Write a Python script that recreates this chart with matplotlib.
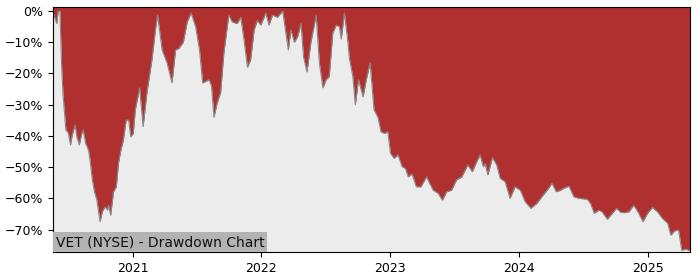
import matplotlib
matplotlib.use("Agg")
import matplotlib.pyplot as plt
import matplotlib.dates as mdates
from matplotlib.ticker import FuncFormatter, MultipleLocator
import pandas as pd

dates = [
    "2020-05-21", "2020-05-31", "2020-06-04", "2020-06-09", "2020-06-14", "2020-06-18",
    "2020-06-26", "2020-07-03", "2020-07-09", "2020-07-14", "2020-07-22",
    "2020-07-27", "2020-08-03", "2020-08-10", "2020-08-14", "2020-08-21", "2020-08-29",
    "2020-09-02", "2020-09-09", "2020-09-15", "2020-09-22", "2020-09-26", "2020-10-01",
    "2020-10-07", "2020-10-15", "2020-10-22", "2020-10-25", "2020-10-31", "2020-11-08",
    "2020-11-16", "2020-11-22", "2020-11-29", "2020-12-06", "2020-12-14", "2020-12-21",
    "2020-12-27", "2021-01-03", "2021-01-09", "2021-01-21", "2021-01-31",
    "2021-02-11", "2021-02-25", "2021-03-07", "2021-03-13", "2021-03-26", "2021-04-09",
    "2021-04-23", "2021-05-03", "2021-05-12", "2021-05-25", "2021-06-05", "2021-06-16",
    "2021-06-29", "2021-07-10", "2021-07-19", "2021-08-06", "2021-08-13", "2021-08-20",
    "2021-08-29", "2021-09-08", "2021-09-17", "2021-10-01", "2021-10-11", "2021-10-25",
    "2021-11-04", "2021-11-13", "2021-11-23", "2021-12-02", "2021-12-12", "2021-12-21",
    "2021-12-31", "2022-01-14", "2022-01-23", "2022-02-02", "2022-02-16", "2022-03-03",
    "2022-03-12", "2022-03-19", "2022-03-26", "2022-04-05", "2022-04-14", "2022-04-24",
    "2022-05-01", "2022-05-11", "2022-05-22", "2022-06-06", "2022-06-15", "2022-06-25",
    "2022-07-04", "2022-07-13", "2022-07-23", "2022-08-02", "2022-08-11", "2022-08-16",
    "2022-08-25", "2022-09-04", "2022-09-08", "2022-09-18", "2022-09-25", "2022-10-04",
    "2022-10-17", "2022-10-26", "2022-11-06", "2022-11-17", "2022-11-28",
    "2022-12-07", "2022-12-17", "2022-12-26", "2023-01-03", "2023-01-13", "2023-01-24",
    "2023-02-05", "2023-02-14", "2023-02-22", "2023-03-05", "2023-03-17", "2023-03-30",
    "2023-04-15", "2023-04-24", "2023-05-04", "2023-05-18", "2023-05-30", "2023-06-11",
    "2023-06-25", "2023-07-09", "2023-07-24", "2023-08-10", "2023-08-23", "2023-09-02",
    "2023-09-14", "2023-09-23", "2023-09-28", "2023-10-06", "2023-10-19", "2023-10-31",
    "2023-11-10", "2023-11-24", "2023-12-08", "2023-12-22", "2024-01-06", "2024-01-20",
    "2024-02-05", "2024-02-22", "2024-03-07", "2024-03-22", "2024-04-05", "2024-04-17",
    "2024-04-29", "2024-05-08", "2024-05-23", "2024-06-06", "2024-06-20", "2024-07-14",
    "2024-07-23", "2024-08-03", "2024-08-16", "2024-08-25", "2024-09-09", "2024-09-23",
    "2024-10-05", "2024-10-17", "2024-10-28", "2024-11-09", "2024-11-23", "2024-12-07",
    "2024-12-19", "2025-01-01", "2025-01-15", "2025-01-29", "2025-02-12", "2025-02-27",
    "2025-03-08", "2025-03-19", "2025-03-30", "2025-04-08", "2025-04-20", "2025-05-02",
]
drawdown_pct = [
    -0.6, -4, 0, 0, -18, -27,
    -38.1, -39.1, -42.9, -39.7, -36.5,
    -40.3, -42.9, -39.2, -38.1, -42.4, -44.5,
    -47.2, -54.1, -57.9, -60.6, -63.8, -67.5,
    -64.3, -62.7, -63.8, -62.2, -65.4, -57.9,
    -56.3, -48.8, -44.5, -41.3, -34.9, -34.9,
    -40.3, -39.2, -31.6, -24.6, -37,
    -26, -15.6, -6, -1.3, -12.5, -16.6,
    -23, -12.5, -12, -10, -3.5, -0.6,
    -5, -12.5, -23, -22, -24, -34,
    -29.5, -26, -13.5, -1.3, -3.5, -4,
    -2, -9, -18, -15.6, -6, -3,
    -4.5, -0.6, -4.5, -1.3, -2, 0,
    -7, -12.5, -6, -10, -8.3, -4,
    -14.7, -19.5, -10, -1.3, -16.6, -24.6,
    -22, -21, -7, -4.5, -5, -9,
    -0.6, -10, -15, -21, -30, -22,
    -27.5, -22, -16.6, -31.6, -34,
    -38.7, -39.2, -38.7, -45.6, -47.2, -46.1,
    -49.9, -50.4, -53.1, -52.2, -56.3, -56.3,
    -53.1, -55.2, -57.4, -58.4, -60.6, -57.9,
    -57.4, -54.1, -53.1, -49.3, -51.5, -48.8,
    -46.1, -49.9, -48.8, -52.5, -46.9, -49.3,
    -53.6, -54.7, -60.0, -56.3, -57.4, -61.1,
    -63.2, -61.6, -59.5, -57.4, -55.2, -57.9,
    -57.4, -56.8, -56.1, -59.5, -60.0, -60.3,
    -61.6, -64.8, -63.8, -64.3, -66.7, -64.8,
    -63.2, -64.5, -64.6, -64.3, -62.2, -64.8,
    -67.5, -64.8, -62.9, -64.3, -66.4, -68.0,
    -71.8, -70.4, -70.2, -76.6, -76.3, -76.8,
]
title_text = "VET (NYSE) - Drawdown Chart"

x = pd.to_datetime(dates)
y_top = 1.3
y_bottom = -77.2

fig = plt.figure(figsize=(7, 2.8), dpi=100)
ax = fig.add_axes([0.076, 0.1, 0.91, 0.875])
ax.set_facecolor("#ececec")
ax.fill_between(x, drawdown_pct, y_top, color="#b03030", linewidth=0)
ax.plot(x, drawdown_pct, color="#888888", linewidth=0.8)
ax.set_xlim(x[0], x[-1])
ax.set_ylim(y_bottom, y_top)
ax.yaxis.set_major_locator(MultipleLocator(10))
ax.yaxis.set_major_formatter(FuncFormatter(lambda v, p: f"{v:.0f}%".replace("-", "\u2212")))
ax.xaxis.set_major_locator(mdates.YearLocator())
ax.xaxis.set_major_formatter(mdates.DateFormatter("%Y"))
ax.tick_params(labelsize=9)
ax.text(0.004, 0.012, title_text, transform=ax.transAxes, fontsize=10,
        ha="left", va="bottom", color="#111111",
        bbox=dict(facecolor="#b3b3b3", edgecolor="none", pad=2))
fig.savefig("out.png", dpi=100)
